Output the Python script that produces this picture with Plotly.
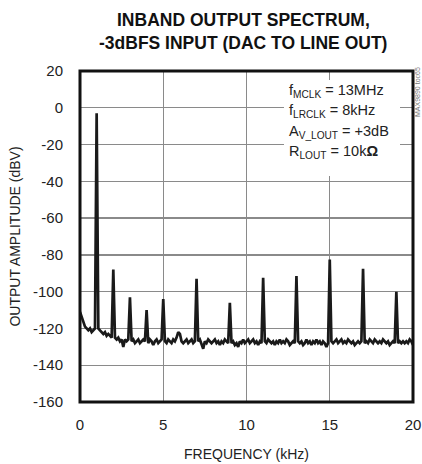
import plotly.graph_objects as go

# ---------------- data ----------------
title_lines = ["INBAND OUTPUT SPECTRUM,", "-3dBFS INPUT (DAC TO LINE OUT)"]
x_title = "FREQUENCY (kHz)"
y_title = "OUTPUT AMPLITUDE (dBV)"
x_ticks = [0, 5, 10, 15, 20]
y_ticks = [20, 0, -20, -40, -60, -80, -100, -120, -140, -160]
cond_lines = [
    "f<sub>MCLK</sub> = 13MHz",
    "f<sub>LRCLK</sub> = 8kHz",
    "A<sub>V_LOUT</sub> = +3dB",
    "R<sub>LOUT</sub> = 10k<b>Ω</b>",
]

# noise floor, sampled every 0.1 kHz from 0 to 20 kHz (dBV)
noise_db = [
    -111, -114, -117, -119, -120, -121, -120, -122, -121, -120,
    -121, -120, -121, -122, -123, -122, -124, -123, -124, -125,
    -126, -125, -126, -125, -127, -126, -130, -126, -127, -126,
    -127, -127, -126, -128, -127, -126, -128, -127, -126, -127,
    -127, -128, -126, -127, -129, -127, -126, -128, -127, -126,
    -127, -127, -128, -126, -127, -128, -126, -127, -125, -122,
    -123, -127, -128, -127, -126, -128, -127, -126, -128, -127,
    -127, -127, -126, -128, -131, -127, -128, -126, -127, -128,
    -127, -126, -128, -127, -129, -127, -128, -126, -127, -128,
    -128, -128, -127, -129, -128, -130, -127, -128, -126, -128,
    -127, -126, -128, -127, -126, -128, -127, -129, -127, -128,
    -127, -127, -128, -126, -127, -128, -127, -129, -127, -128,
    -126, -128, -127, -128, -126, -127, -129, -128, -127, -128,
    -127, -127, -128, -127, -129, -128, -126, -128, -127, -129,
    -127, -128, -126, -128, -127, -129, -127, -128, -130, -128,
    -128, -127, -128, -127, -126, -128, -127, -126, -128, -127,
    -128, -126, -127, -128, -127, -129, -128, -127, -128, -127,
    -127, -128, -127, -128, -126, -127, -128, -126, -127, -128,
    -127, -128, -126, -127, -128, -127, -129, -128, -127, -128,
    -128, -128, -127, -128, -127, -128, -127, -128, -126, -127,
    -129,
]
# fundamental and spurs
peak_khz = [1, 2, 3, 4, 5, 7, 9, 11, 13, 15, 17, 19]
peak_db = [-3, -88, -103, -110, -104, -93, -106, -92.5, -91.5, -82.5, -87.5, -100]

# ------------- build spectrum trace -------------
freq_khz = [i / 10 for i in range(len(noise_db))]
amp_db = list(noise_db)
for pk, pv in zip(peak_khz, peak_db):
    amp_db[int(round(pk * 10))] = pv

FONT = "Liberation Sans, Arial, sans-serif"

fig = go.Figure()
fig.add_trace(go.Scatter(
    x=freq_khz, y=amp_db, mode="lines",
    line=dict(color="#1a1a1a", width=2.7),
    hoverinfo="skip", showlegend=False,
))

W, H = 422, 464
L, R, T, B = 80, 9, 71, 62
pw, ph = W - L - R, H - T - B

def px_x(p):
    return (p - L) / pw

def px_y(p):
    return (H - B - p) / ph

axis_common = dict(
    showgrid=True, gridcolor="#8a8a8a", gridwidth=1.3,
    zeroline=False, showline=False, ticks="", automargin=False,
    tickfont=dict(family=FONT, size=15, color="#222"),
    title_font=dict(family=FONT, size=14, color="#222"),
    fixedrange=True,
)

fig.update_xaxes(
    range=[0, 20], tickvals=x_ticks, ticktext=[str(v) for v in x_ticks],
    title_text=x_title, title_standoff=17, ticklabelstandoff=12,
    **axis_common,
)
fig.update_yaxes(
    range=[-160, 20], tickvals=y_ticks, ticktext=[str(v) for v in y_ticks],
    title_text=y_title, title_standoff=9, ticklabelstandoff=16,
    **axis_common,
)

# white backing for conditions text (breaks the grid lines)
fig.add_shape(type="rect", xref="paper", yref="paper",
              x0=px_x(284), x1=px_x(400), y0=px_y(176), y1=px_y(80),
              line=dict(width=0), fillcolor="white", layer="above")

# thick frame
fig.add_shape(type="rect", xref="paper", yref="paper", x0=0, y0=0, x1=1, y1=1,
              line=dict(color="#111", width=3), layer="above")

# title (two lines)
for line_txt, ypix in zip(title_lines, [20, 43]):
    fig.add_annotation(text="<b>" + line_txt + "</b>", xref="paper", yref="paper",
                       x=px_x(243), y=px_y(ypix), xanchor="center", yanchor="middle",
                       showarrow=False, font=dict(family=FONT, size=17.5, color="#111"))

# conditions text
for line_txt, ypix in zip(cond_lines, [91, 111, 131.5, 152]):
    fig.add_annotation(text=line_txt, xref="paper", yref="paper",
                       x=px_x(287), y=px_y(ypix), xanchor="left", yanchor="middle",
                       showarrow=False, font=dict(family=FONT, size=14.5, color="#222"))

# figure code label
fig.add_annotation(text="MAX9890 toc65", xref="paper", yref="paper",
                   x=px_x(417), y=px_y(92), xanchor="center", yanchor="middle",
                   textangle=-90, showarrow=False,
                   font=dict(family=FONT, size=7, color="#777"))

fig.update_layout(
    width=W, height=H,
    margin=dict(l=L, r=R, t=T, b=B),
    paper_bgcolor="white", plot_bgcolor="white",
    font=dict(family=FONT, color="#222"),
)

fig.write_html(
    "out.html",
    config={"displayModeBar": False, "staticPlot": True},
    post_script="document.body.style.margin='0';document.body.style.overflow='hidden';",
)
